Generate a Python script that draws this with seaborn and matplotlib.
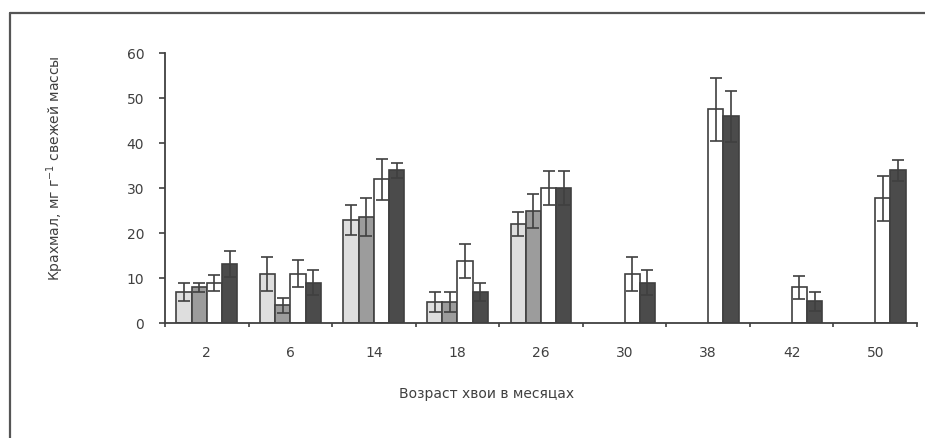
import numpy as np
import pandas as pd
import matplotlib
matplotlib.use("Agg")
import matplotlib.pyplot as plt
from matplotlib.lines import Line2D
import seaborn as sns

# Needle age (months) and starch content per needle cohort (mean and error)
ages = ["2", "6", "14", "18", "26", "30", "38", "42", "50"]
series = ["s1", "s2", "s3", "s4"]
nan = np.nan
s1_mean = [7.0, 11.0, 23.0, 4.8, 22.0, nan, nan, nan, nan]
s1_err = [2.0, 3.8, 3.3, 2.2, 2.7, nan, nan, nan, nan]
s2_mean = [8.0, 4.0, 23.7, 4.8, 25.0, nan, nan, nan, nan]
s2_err = [1.0, 1.7, 4.2, 2.2, 3.8, nan, nan, nan, nan]
s3_mean = [9.0, 11.0, 32.0, 13.8, 30.0, 11.0, 47.6, 8.0, 27.8]
s3_err = [1.8, 3.0, 4.6, 3.8, 3.8, 3.8, 7.0, 2.6, 5.0]
s4_mean = [13.2, 9.0, 34.0, 6.9, 30.0, 9.0, 46.0, 4.9, 34.0]
s4_err = [2.8, 2.8, 1.7, 2.0, 3.8, 2.8, 5.7, 2.1, 2.3]
yticks = [0, 10, 20, 30, 40, 50, 60]

means = [s1_mean, s2_mean, s3_mean, s4_mean]
errs = [s1_err, s2_err, s3_err, s4_err]
colors = ["#dedede", "#9c9c9c", "#ffffff", "#4b4b4b"]
ink = "#404040"
fs = 10

rows = []
for s, m, e in zip(series, means, errs):
    for a, v, d in zip(ages, m, e):
        rows.append({"age": a, "series": s, "value": v, "err": d})
df = pd.DataFrame(rows)

sns.set_theme(style="white")
plt.rcParams["font.family"] = ["DejaVu Sans"]
plt.rcParams["mathtext.fontset"] = "dejavusans"

fig = plt.figure(figsize=(9.25, 4.38), dpi=100)
ax = fig.add_axes([165 / 925, 1 - 323.3 / 438, 752 / 925, 270 / 438])

width = 0.73
sns.barplot(data=df.dropna(subset=["value"]), x="age", y="value", hue="series",
            order=ages, hue_order=series, palette=colors, width=width,
            edgecolor=ink, linewidth=1.2, errorbar=None, legend=False,
            saturation=1, ax=ax)

# error bars on each bar, at the dodged hue positions
n = len(series)
bw = width / n
for j, s in enumerate(series):
    sub = df[df["series"] == s]
    for i, a in enumerate(ages):
        r = sub[sub["age"] == a].iloc[0]
        if np.isnan(r["value"]):
            continue
        x = i + (j - (n - 1) / 2) * bw
        ax.errorbar(x, r["value"], yerr=r["err"], fmt="none", ecolor=ink,
                    elinewidth=1.2, capsize=4, capthick=1.2, zorder=5)

ax.set_xlim(-0.5, len(ages) - 0.5)
ax.set_ylim(0, 60)
ax.set_yticks(yticks)
ax.set_yticklabels([str(t) for t in yticks])

# category boundaries carry the tick marks; labels sit at the centres
ax.set_xticks(np.arange(-0.5, len(ages), 1.0))
ax.set_xticklabels([])
ax.set_xticks(np.arange(len(ages)), minor=True)
ax.set_xticklabels(ages, minor=True)
ax.tick_params(axis="x", which="major", direction="out", length=3, width=1.2,
               color=ink, bottom=True)
ax.tick_params(axis="x", which="minor", length=0, pad=16, labelsize=fs,
               labelcolor=ink)
ax.tick_params(axis="y", direction="out", length=4, width=1.2, color=ink,
               left=True, pad=11, labelsize=fs, labelcolor=ink)

for side in ["top", "right"]:
    ax.spines[side].set_visible(False)
for side in ["left", "bottom"]:
    ax.spines[side].set_color(ink)
    ax.spines[side].set_linewidth(1.3)

ax.set_xlabel("Возраст хвои в месяцах", fontsize=fs, color=ink)
ax.xaxis.set_label_coords((487 - 165) / 752, -(387 - 323.3) / 270)
ax.set_ylabel("Крахмал, мг г$^{-1}$ свежей массы", fontsize=fs, color=ink)
ax.yaxis.set_label_coords((66 - 165) / 752, (323.3 - 168) / 270)

# outer frame of the figure panel
fig.add_artist(Line2D([9.5 / 925, 9.5 / 925], [0, 1 - 13 / 438],
                      transform=fig.transFigure, color="#555555", lw=1.6))
fig.add_artist(Line2D([9.5 / 925, 1], [1 - 13 / 438, 1 - 13 / 438],
                      transform=fig.transFigure, color="#555555", lw=1.6))

fig.savefig("out.png", dpi=100)
